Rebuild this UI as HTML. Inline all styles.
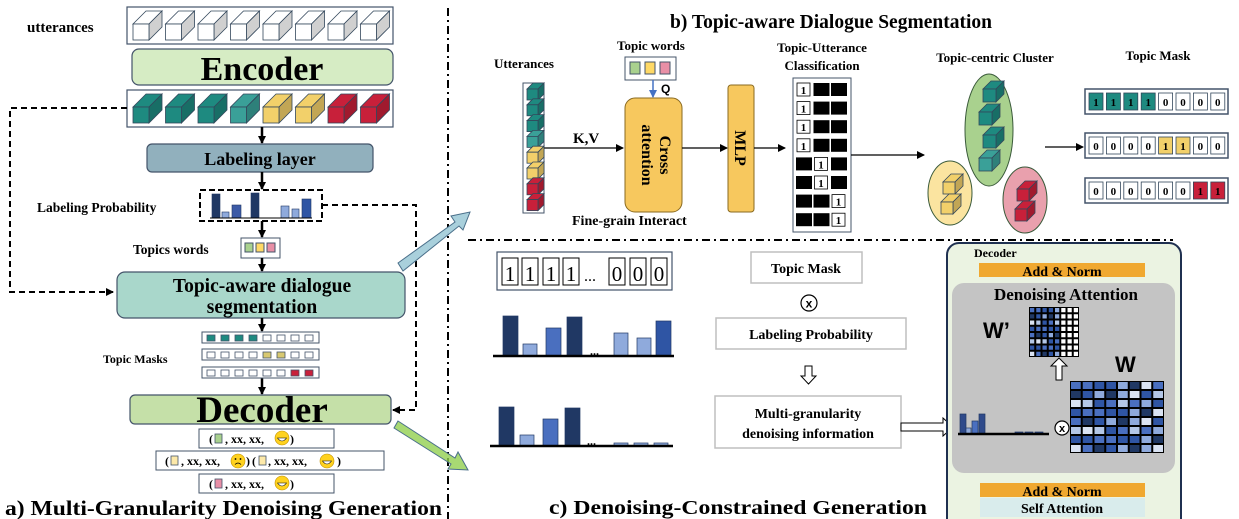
<!DOCTYPE html>
<html><head><meta charset="utf-8"><style>
html,body{margin:0;padding:0;background:#fff;}
svg{display:block;font-family:"Liberation Serif",serif;font-weight:bold;}
</style></head><body>
<svg id="s" width="1239" height="519" viewBox="0 0 1239 519" xmlns="http://www.w3.org/2000/svg">
<defs>
<marker id="ah" markerWidth="8" markerHeight="8" refX="7" refY="4" orient="auto" markerUnits="userSpaceOnUse"><path d="M0,0 L8,4 L0,8 z" fill="#000"/></marker>
<marker id="ahb" markerWidth="8" markerHeight="8" refX="7" refY="4" orient="auto" markerUnits="userSpaceOnUse"><path d="M0,0 L8,4 L0,8 z" fill="#4472c4"/></marker>
</defs>
<!-- LEFT PANEL -->
<text x="27" y="32" font-size="15">utterances</text>
<rect x="127" y="7" width="266" height="37" fill="#fff" stroke="#44546a" stroke-width="1.2"/>
<rect x="132" y="49" width="261" height="36" rx="7" fill="#d6ecc4" stroke="#44546a" stroke-width="1.2"/>
<text x="262" y="80" font-size="34" text-anchor="middle">Encoder</text>
<rect x="127" y="90" width="266" height="37" fill="#fff" stroke="#44546a" stroke-width="1.2"/>
<path d="M127,108 H10 V292 H113" fill="none" stroke="#000" stroke-width="2" stroke-dasharray="6,4" marker-end="url(#ah)"/>
<line x1="262" y1="127" x2="262" y2="143" stroke="#000" stroke-width="2.5" marker-end="url(#ah)"/>
<rect x="147" y="144" width="226" height="28" rx="5" fill="#91b0bd" stroke="#44546a" stroke-width="1.2"/>
<text x="260" y="165" font-size="18" text-anchor="middle">Labeling layer</text>
<line x1="262" y1="172" x2="262" y2="189" stroke="#000" stroke-width="2.5" marker-end="url(#ah)"/>
<rect x="200" y="190" width="122" height="31" fill="none" stroke="#000" stroke-width="2" stroke-dasharray="6,3"/>
<text x="37" y="212" font-size="13.5">Labeling Probability</text>
<path d="M322,205 H416 V410 H393" fill="none" stroke="#000" stroke-width="2" stroke-dasharray="6,4" marker-end="url(#ah)"/>
<line x1="262" y1="221" x2="262" y2="237" stroke="#000" stroke-width="2.5" marker-end="url(#ah)"/>
<text x="133" y="254" font-size="13.5">Topics words</text>
<rect x="241" y="238" width="39" height="20" fill="#fff" stroke="#44546a"/>
<rect x="245" y="243" width="8" height="9" fill="#a9d18e" stroke="#44546a"/>
<rect x="256" y="243" width="8" height="9" fill="#ffd966" stroke="#44546a"/>
<rect x="267" y="243" width="8" height="9" fill="#e88fa6" stroke="#44546a"/>
<line x1="262" y1="258" x2="262" y2="271" stroke="#000" stroke-width="2.5" marker-end="url(#ah)"/>
<rect x="117" y="272" width="288" height="46" rx="8" fill="#a9d7cb" stroke="#44546a" stroke-width="1.2"/>
<text x="262" y="292" font-size="19.5" text-anchor="middle">Topic-aware dialogue</text>
<text x="262" y="313" font-size="19.5" text-anchor="middle">segmentation</text>
<line x1="262" y1="318" x2="262" y2="331" stroke="#000" stroke-width="2.5" marker-end="url(#ah)"/>
<text x="103" y="363" font-size="12">Topic Masks</text>
<line x1="262" y1="378" x2="262" y2="394" stroke="#000" stroke-width="2.5" marker-end="url(#ah)"/>
<rect x="130" y="395" width="261" height="29" rx="5" fill="#c5e0a8" stroke="#44546a" stroke-width="1.2"/>
<text x="262" y="422" font-size="37" text-anchor="middle">Decoder</text>
<rect x="199" y="429" width="135" height="19" fill="#fff" stroke="#44546a"/>
<rect x="156" y="451" width="228" height="19" fill="#fff" stroke="#44546a"/>
<rect x="199" y="474" width="135" height="19" fill="#fff" stroke="#44546a"/>
<text x="209" y="443" font-size="12">(</text><text x="225" y="443" font-size="12">, xx, xx,</text><text x="290" y="443" font-size="12">)</text>
<text x="165" y="465" font-size="12">(</text><text x="181" y="465" font-size="12">, xx, xx,</text><text x="246" y="465" font-size="12">)</text>
<text x="252" y="465" font-size="12">(</text><text x="268" y="465" font-size="12">, xx, xx,</text><text x="337" y="465" font-size="12">)</text>
<text x="209" y="488" font-size="12">(</text><text x="225" y="488" font-size="12">, xx, xx,</text><text x="290" y="488" font-size="12">)</text>
<text x="5" y="515" font-size="21" textLength="437" lengthAdjust="spacingAndGlyphs">a) Multi-Granularity Denoising Generation</text>
<line x1="448" y1="8" x2="448" y2="519" stroke="#000" stroke-width="2" stroke-dasharray="8,4,2,4"/>
<polygon points="398,263 455,222 451,216 470,212 463,230 459,226 403,271" fill="#a9d0dc" stroke="#4a6f8a" stroke-width="1"/>
<polygon points="398,421 455,458 458,452 468,470 448,469 451,464 394,428" fill="#92d050" fill-opacity="0.8" stroke="#4a6f8a" stroke-width="1"/>
<!-- PANEL B -->
<text x="831" y="28" font-size="19.5" text-anchor="middle">b) Topic-aware Dialogue Segmentation</text>
<text x="494" y="68" font-size="13">Utterances</text>
<rect x="523" y="83" width="21" height="130" fill="#fff" stroke="#44546a"/>
<text x="617" y="50" font-size="13">Topic words</text>
<rect x="625" y="57" width="51" height="23" fill="#fff" stroke="#44546a"/>
<rect x="630" y="62" width="10" height="12" fill="#a9d18e" stroke="#44546a"/>
<rect x="645" y="62" width="10" height="12" fill="#ffd966" stroke="#44546a"/>
<rect x="660" y="62" width="10" height="12" fill="#e88fa6" stroke="#44546a"/>
<line x1="653" y1="80" x2="653" y2="97" stroke="#4472c4" stroke-width="1.5" marker-end="url(#ahb)"/>
<text x="661" y="93" font-size="12" font-family="Liberation Sans">Q</text>
<rect x="625" y="98" width="57" height="114" rx="10" fill="#f7c85e" stroke="#8a6a20" stroke-width="1"/>
<text transform="translate(660,155) rotate(90)" font-size="16" text-anchor="middle">Cross</text>
<text transform="translate(642,155) rotate(90)" font-size="16" text-anchor="middle">attention</text>
<text x="573" y="143" font-size="15">K,V</text>
<line x1="544" y1="148" x2="623" y2="148" stroke="#000" stroke-width="1.2" marker-end="url(#ah)"/>
<line x1="682" y1="148" x2="727" y2="148" stroke="#000" stroke-width="1.2" marker-end="url(#ah)"/>
<rect x="728" y="85" width="26" height="127" rx="3" fill="#f7c85e" stroke="#8a6a20" stroke-width="1"/>
<text transform="translate(735,148) rotate(90)" font-size="16" text-anchor="middle">MLP</text>
<line x1="754" y1="148" x2="785" y2="148" stroke="#000" stroke-width="1.2" marker-end="url(#ah)"/>
<text x="822" y="52" font-size="13" text-anchor="middle">Topic-Utterance</text>
<text x="822" y="70" font-size="13" text-anchor="middle">Classification</text>
<rect x="793" y="78" width="58" height="154" fill="#fff" stroke="#44546a"/>
<line x1="851" y1="155" x2="924" y2="155" stroke="#000" stroke-width="1.2" marker-end="url(#ah)"/>
<text x="995" y="62" font-size="13" text-anchor="middle">Topic-centric Cluster</text>
<ellipse cx="989" cy="130" rx="24" ry="56" fill="#a9d18e" stroke="#3a5a3a"/>
<ellipse cx="950" cy="193" rx="22" ry="32" fill="#fbe4a0" stroke="#3a5a3a"/>
<ellipse cx="1025" cy="200" rx="22" ry="33" fill="#e9a0ad" stroke="#3a5a3a"/>
<text x="1158" y="60" font-size="13" text-anchor="middle">Topic Mask</text>
<line x1="1045" y1="147" x2="1083" y2="147" stroke="#000" stroke-width="1.2" marker-end="url(#ah)"/>
<text x="572" y="225" font-size="14">Fine-grain Interact</text>
<line x1="468" y1="240" x2="1173" y2="240" stroke="#000" stroke-width="2" stroke-dasharray="8,4,2,4"/>
<!-- PANEL C -->
<rect x="497" y="252" width="175" height="38" fill="#fff" stroke="#44546a" stroke-width="1.2"/>
<rect x="751" y="252" width="111" height="31" fill="#fff" stroke="#bfbfbf" stroke-width="1.5"/>
<text x="806" y="273" font-size="14" text-anchor="middle">Topic Mask</text>
<circle cx="809" cy="303" r="8" fill="#fff" stroke="#000" stroke-width="1.2"/>
<text x="809" y="307.5" font-size="12" text-anchor="middle" font-family="Liberation Sans">x</text>
<rect x="716" y="318" width="190" height="31" fill="#fff" stroke="#bfbfbf" stroke-width="1.5"/>
<text x="811" y="339" font-size="14" text-anchor="middle">Labeling Probability</text>
<path d="M805,366 h7 v10 h4 l-7.5,8 l-7.5,-8 h4 z" fill="#fff" stroke="#000" stroke-width="1"/>
<rect x="715" y="396" width="186" height="52" fill="#fff" stroke="#bfbfbf" stroke-width="1.5"/>
<text x="808" y="418" font-size="14" text-anchor="middle">Multi-granularity</text>
<text x="808" y="438" font-size="14" text-anchor="middle">denoising information</text>
<path d="M901,423 h42 v-5 l10,9 l-10,9 v-5 h-42 z" fill="#fff" stroke="#000" stroke-width="1"/>
<text x="549" y="514" font-size="20" textLength="378" lengthAdjust="spacingAndGlyphs">c) Denoising-Constrained Generation</text>
<rect x="947" y="243" width="234" height="290" rx="12" fill="#ebf3e2" stroke="#1f3050" stroke-width="2"/>
<text x="974" y="257" font-size="12">Decoder</text>
<rect x="979" y="263" width="166" height="14" fill="#f0a830"/>
<text x="1062" y="276" font-size="14" text-anchor="middle">Add &amp; Norm</text>
<rect x="952" y="283" width="223" height="190" rx="12" fill="#c4c4c4"/>
<text x="1066" y="300" font-size="17" text-anchor="middle">Denoising Attention</text>
<text x="983" y="338" font-size="22" font-family="Liberation Sans">W’</text>
<text x="1115" y="372" font-size="22" font-family="Liberation Sans">W</text>
<path d="M1056,380 v-14 h-5 l8,-8 l8,8 h-5 v14 z" fill="#fff" stroke="#000" stroke-width="1"/>
<circle cx="1062" cy="428" r="7" fill="#fff" stroke="#000" stroke-width="1.2"/>
<text x="1062" y="432" font-size="11" text-anchor="middle" font-family="Liberation Sans">x</text>
<rect x="980" y="483" width="165" height="14" fill="#f0a830"/>
<text x="1062" y="496" font-size="14" text-anchor="middle">Add &amp; Norm</text>
<rect x="980" y="498" width="165" height="19" fill="#d9ecec"/>
<text x="1062" y="513" font-size="14" text-anchor="middle">Self Attention</text>
<g id="txt"></g>
</svg>
<script>
var NS="http://www.w3.org/2000/svg",T=document.getElementById("txt"),G=T;
function el(n,a,p){var e=document.createElementNS(NS,n);for(var k in a)e.setAttribute(k,a[k]);(p||G).appendChild(e);return e;}
function shade(c,f){var r=parseInt(c.substr(1,2),16),g=parseInt(c.substr(3,2),16),b=parseInt(c.substr(5,2),16);return "rgb("+Math.round(r*f)+","+Math.round(g*f)+","+Math.round(b*f)+")";}
function cube(x,y,s,d,c,side,st){st=st||"#33475b";
 el("polygon",{points:[x,y,x+d,y-d,x+s+d,y-d,x+s,y].join(","),fill:c,stroke:st,"stroke-width":0.8});
 el("polygon",{points:[x+s,y,x+s+d,y-d,x+s+d,y+s-d,x+s,y+s].join(","),fill:side||shade(c,0.8),stroke:st,"stroke-width":0.8});
 el("rect",{x:x,y:y,width:s,height:s,fill:c,stroke:st,"stroke-width":0.8});}
for(var i=0;i<8;i++){cube(133+i*32.5,24,16,13,"#ffffff","#d0d0d0");}
var cc=["#1e8a80","#1e8a80","#1e8a80","#3aa098","#f2d06a","#f2d06a","#c8203a","#c8203a"];
for(var i=0;i<8;i++){cube(133+i*32.5,107,16,13,cc[i]);}
var bx=[212,222,232,251,281,292,302],bh=[24,6,13,25,12,9,19],bw=[8,7,9,8,8,7,9],bc=["#203864","#8faadc","#3c5aa6","#203864","#8faadc","#8faadc","#2f55a4"];
for(var i=0;i<7;i++)el("rect",{x:bx[i],y:218-bh[i],width:bw[i],height:bh[i],fill:bc[i],stroke:"#203864","stroke-width":0.6});
el("line",{x1:210,y1:218,x2:312,y2:218,stroke:"#000","stroke-width":1});
var mr=[[332,"#1e8a80",[0,1,2,3]],[349,"#d8c870",[4,5]],[367,"#c8203a",[6,7]]];
mr.forEach(function(m){el("rect",{x:202,y:m[0],width:117,height:11,fill:"#fff",stroke:"#44546a"});
 for(var j=0;j<8;j++)el("rect",{x:207+j*14,y:m[0]+3,width:8,height:6,fill:m[2].indexOf(j)>=0?m[1]:"#fff",stroke:"#44546a","stroke-width":0.8});});
function sq(x,y,c){el("rect",{x:x,y:y,width:7,height:9,fill:c,stroke:"#44546a","stroke-width":0.8});}
function face(x,y,sad){el("circle",{cx:x,cy:y,r:7,fill:"#ffd21f",stroke:"#c09000","stroke-width":0.6});
 if(sad){el("circle",{cx:x-2.5,cy:y-2,r:0.9,fill:"#000"});el("circle",{cx:x+2.5,cy:y-2,r:0.9,fill:"#000"});el("path",{d:"M"+(x-3)+","+(y+3.5)+" q3,-3 6,0",fill:"none",stroke:"#000","stroke-width":0.8});}
 else el("path",{d:"M"+(x-4.5)+","+(y)+" q4.5,6 9,0 z",fill:"#fff",stroke:"#000","stroke-width":0.6});}
sq(215,434,"#a9d18e");face(282,438);
sq(171,456,"#fde9a9");face(238,461,true);sq(259,456,"#fde9a9");face(327,461);
sq(215,479,"#e88fa6");face(282,483);
for(var i=0;i<8;i++)cube(527,89+i*15.8,11,6,cc[i]);
for(var r=0;r<8;r++){var one=r<4?0:(r<6?1:2);for(var k=0;k<3;k++){var x=797+k*17.5,y=83+r*18.6;
 if(k==one){el("rect",{x:x,y:y,width:13,height:13,fill:"#fff",stroke:"#000","stroke-width":0.8});var t=el("text",{x:x+6.5,y:y+11,"font-size":11,"text-anchor":"middle"});t.textContent="1";}
 else el("rect",{x:x-1,y:y,width:16,height:13,fill:"#000"});}}
for(var i=0;i<4;i++)cube(981+(i%2?-2:2),89+i*23,13,8,i==3?"#3aa098":"#1e8a80");
for(var i=0;i<2;i++)cube(941+(i?0:2),182+i*20,12,8,"#f2d06a");
for(var i=0;i<2;i++)cube(1015+(i?0:2),189+i*20,12,8,"#c8203a");
var rm=[[89,"#1e8a80",[0,1,2,3]],[133,"#f2d06a",[4,5]],[178,"#c8203a",[6,7]]];
rm.forEach(function(m){el("rect",{x:1085,y:m[0],width:143,height:25,fill:"#fff",stroke:"#44546a","stroke-width":1.5});
 for(var j=0;j<8;j++){var on=m[2].indexOf(j)>=0;el("rect",{x:1089+j*17.4,y:m[0]+4,width:14,height:17,fill:on?m[1]:"#fff",stroke:"#33475b","stroke-width":0.8});
 var t=el("text",{x:1096+j*17.4,y:m[0]+17,"font-size":11,"text-anchor":"middle"});t.textContent=on?"1":"0";}});
var lbl=["1","1","1","1","...","0","0","0"],xs=[502,522,543,563,582,609,630,651];
for(var i=0;i<8;i++){if(lbl[i]!="..."){el("rect",{x:xs[i],y:258,width:16,height:27,fill:"#fff",stroke:"#000","stroke-width":1});}
 var t=el("text",{x:xs[i]+8,y:281,"font-size":lbl[i]=="..."?16:21,"text-anchor":"middle","font-weight":"normal"});t.textContent=lbl[i];}
function bars(base,x0,items){items.forEach(function(b){el("rect",{x:b[0],y:base-b[1],width:b[2],height:b[1],fill:b[3],stroke:"#203864","stroke-width":0.7});});
 el("line",{x1:x0[0],y1:base,x2:x0[1],y2:base,stroke:"#000","stroke-width":2.5});}
bars(356,[493,674],[[503,40,15,"#203864"],[523,12,14,"#8faadc"],[546,28,15,"#4a6fbf"],[567,39,15,"#203864"],[614,23,14,"#8faadc"],[637,18,14,"#8faadc"],[656,35,15,"#2f55a4"]]);
el("text",{x:590,y:355,"font-size":12}).textContent="...";
bars(446,[490,673],[[499,39,15,"#203864"],[520,11,14,"#8faadc"],[543,27,15,"#4a6fbf"],[565,38,15,"#203864"],[614,3,14,"#8faadc"],[634,3,14,"#8faadc"],[654,3,14,"#8faadc"]]);
el("text",{x:587,y:445,"font-size":12}).textContent="...";
bars(434,[958,1049],[[960,20,6,"#2f4a8a"],[966,6,5,"#8faadc"],[972,13,6,"#4a6fbf"],[979,20,6,"#2f4a8a"],[1015,2,8,"#2f4a8a"],[1025,2,8,"#2f4a8a"],[1035,2,8,"#2f4a8a"]]);
var pal=["#203864","#2f55a4","#4a6fbf","#8faadc","#b4c7e7","#dae3f3"];
function grid(x,y,w,h,n,right){el("rect",{x:x,y:y,width:w,height:h,fill:"#000"});var cw=w/n,ch=h/n,s=7;
 for(var r=0;r<n;r++)for(var c=0;c<n;c++){s=(s*37+11)%101;var col=pal[s%6];if(right&&c>=5)col="#fff";
 el("rect",{x:x+c*cw+1,y:y+r*ch+1,width:cw-2,height:ch-2,fill:col});}}
grid(1029,307,50,50,8,true);
grid(1070,381,94,72,8,false);
</script>
</body></html>
